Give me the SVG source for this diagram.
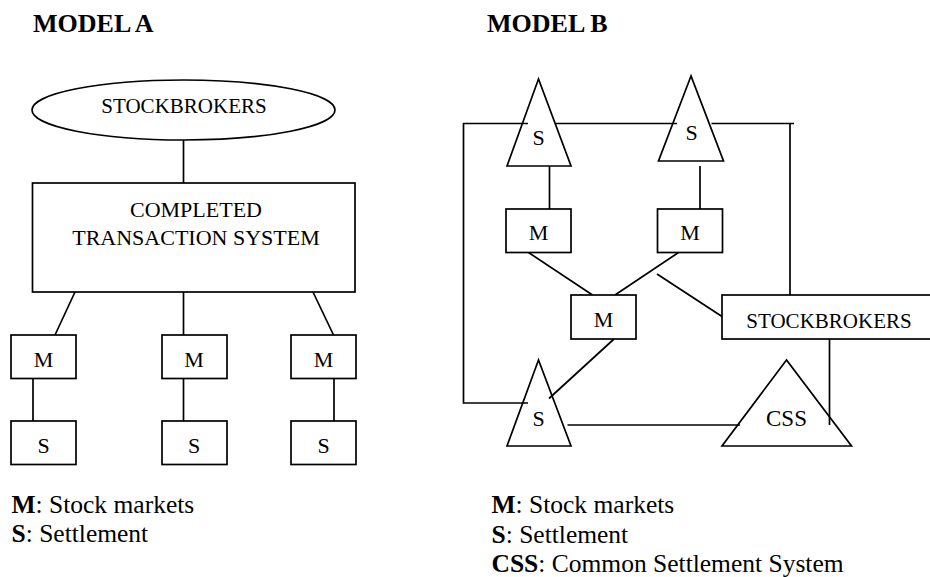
<svg xmlns="http://www.w3.org/2000/svg" width="930" height="577" viewBox="0 0 930 577" font-family="Liberation Serif, Times New Roman, DejaVu Serif, serif">
<style>
.s{fill:none;stroke:#000;stroke-width:1.7}
.n{fill:#fff;stroke:#000;stroke-width:1.7}
text{font-family:'Liberation Serif','Times New Roman','DejaVu Serif',serif;fill:#000}
.t{text-anchor:middle}
.b{font-size:22px}
.h{font-size:26px;font-weight:bold}
.l{font-size:25.5px}
</style>
<rect width="930" height="577" fill="#fff"/>
<text class="h" x="33" y="32">MODEL A</text>
<text class="h" x="487" y="32">MODEL B</text>

<g id="connectors" class="s">
<line x1="183.5" y1="140" x2="183.5" y2="183"/>
<line x1="75" y1="292" x2="55" y2="335"/>
<line x1="183.5" y1="292" x2="183.5" y2="335"/>
<line x1="313" y1="292" x2="333.5" y2="335"/>
<line x1="33" y1="378" x2="33" y2="421"/>
<line x1="183.5" y1="378" x2="183.5" y2="421"/>
<line x1="334" y1="378" x2="334" y2="421"/>
<polyline points="528,403 463.5,403 463.5,123.5 528,123.5"/>
<line x1="555" y1="123.5" x2="677" y2="123.5"/>
<polyline points="711.5,123.5 794,123.5"/>
<line x1="790" y1="123.5" x2="790" y2="295"/>
<line x1="549.5" y1="166" x2="549.5" y2="209"/>
<line x1="700" y1="166" x2="700" y2="209"/>
<line x1="528.5" y1="252.5" x2="592.5" y2="295"/>
<line x1="678.5" y1="252.5" x2="615" y2="295"/>
<line x1="657" y1="274" x2="722" y2="316.5"/>
<line x1="614" y1="339" x2="549" y2="398.5"/>
<line x1="829.5" y1="339" x2="829.5" y2="425"/>
<line x1="567.5" y1="425" x2="740" y2="425"/>
</g>

<g id="a-stockbrokers">
<ellipse class="s" cx="183.5" cy="110" rx="151.5" ry="30"/>
<text class="t" x="184" y="112.5" font-size="21">STOCKBROKERS</text>
</g>
<g id="a-cts">
<rect class="s" x="32.5" y="183" width="322.5" height="109"/>
<text class="t b" x="196" y="216.5">COMPLETED</text>
<text class="t b" x="196" y="245">TRANSACTION SYSTEM</text>
</g>
<g id="a-m1"><rect class="n" x="11" y="335" width="65" height="43.5"/><text class="t b" x="43.5" y="367">M</text></g>
<g id="a-m2"><rect class="n" x="162" y="335" width="65" height="43.5"/><text class="t b" x="194" y="367">M</text></g>
<g id="a-m3"><rect class="n" x="291" y="335" width="65" height="43.5"/><text class="t b" x="323.5" y="367">M</text></g>
<g id="a-s1"><rect class="n" x="11" y="421" width="65" height="43.5"/><text class="t b" x="43.5" y="453">S</text></g>
<g id="a-s2"><rect class="n" x="162" y="421" width="65" height="43.5"/><text class="t b" x="194" y="453">S</text></g>
<g id="a-s3"><rect class="n" x="291" y="421" width="65" height="43.5"/><text class="t b" x="323.5" y="453">S</text></g>

<g id="b-s1"><polygon class="s" points="538.5,79 507,166 571,166"/><text class="t b" x="538.5" y="145">S</text></g>
<g id="b-s2"><polygon class="s" points="691,76 658.5,161 723.5,161"/><text class="t b" x="691.5" y="140">S</text></g>
<g id="b-m1"><rect class="s" x="506" y="209" width="65" height="43.5"/><text class="t b" x="538.5" y="240">M</text></g>
<g id="b-m2"><rect class="s" x="657.5" y="209" width="65" height="43.5"/><text class="t b" x="690" y="240">M</text></g>
<g id="b-m3"><rect class="n" x="571" y="295" width="65" height="44"/><text class="t b" x="603.5" y="327">M</text></g>
<g id="b-stockbrokers"><rect class="n" x="722" y="295" width="212" height="44"/><text class="t" x="829" y="327.5" font-size="21">STOCKBROKERS</text></g>
<g id="b-s3"><polygon class="s" points="538.5,360 507,446 571,446"/><text class="t b" x="538.5" y="426">S</text></g>
<g id="b-css"><polygon class="s" points="786.5,360 722,446 851.5,446"/><text class="t" x="786.5" y="426" font-size="23">CSS</text></g>

<g id="legend-a">
<text class="l" x="11.5" y="513"><tspan font-weight="bold">M</tspan>: Stock markets</text>
<text class="l" x="11.5" y="542"><tspan font-weight="bold">S</tspan>: Settlement</text>
</g>
<g id="legend-b">
<text class="l" x="491.5" y="513"><tspan font-weight="bold">M</tspan>: Stock markets</text>
<text class="l" x="491.5" y="543"><tspan font-weight="bold">S</tspan>: Settlement</text>
<text class="l" x="491.5" y="572"><tspan font-weight="bold">CSS</tspan>: Common Settlement System</text>
</g>
</svg>
